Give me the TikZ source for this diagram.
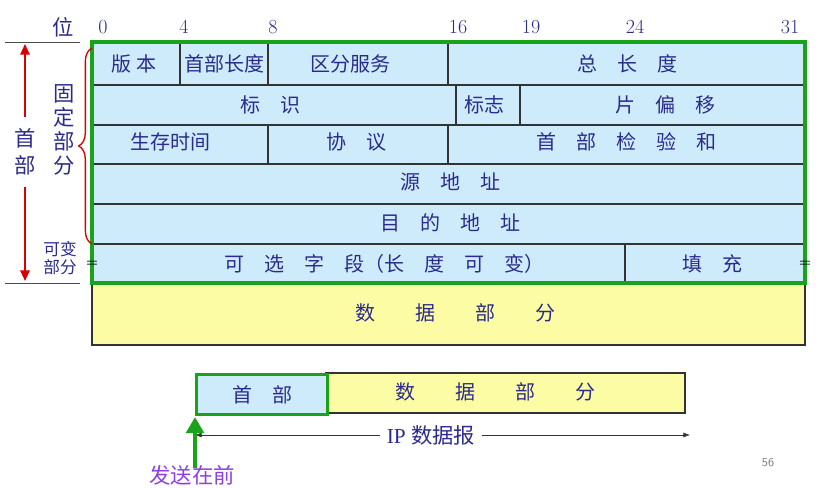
\documentclass[tikz,border=0pt]{standalone}
\usepackage{fontspec}
\newfontfamily\cjk{Noto Sans CJK SC}
\usetikzlibrary{arrows.meta,decorations.pathreplacing}
\definecolor{tb}{HTML}{2B2B8C}
\definecolor{lb}{HTML}{CDEBFB}
\definecolor{ly}{HTML}{FCFCA4}
\definecolor{gr}{HTML}{1AA31A}
\definecolor{pu}{HTML}{8A3FE0}
\tikzset{t/.style={text=tb,font=\cjk\fontsize{15}{15}\selectfont,inner sep=0pt},
num/.style={text=tb,font=\fontsize{15}{15}\selectfont,inner sep=0pt},
ln/.style={draw=black!80,line width=0.8pt}}
\begin{document}
\begin{tikzpicture}[x=0.75pt,y=-0.75pt]
\useasboundingbox (0,0) rectangle (821,488);
\fill[lb] (92,42) rectangle (805,283);
\fill[ly] (92,283) rectangle (805,345);
\draw[ln] (92,283) -- (92,345) -- (805,345) -- (805,283);
\foreach \y in {85,125,164,204,244} \draw[ln] (92,\y) -- (805,\y);
\draw[ln] (180,42)--(180,85) (268,42)--(268,85) (448,42)--(448,85);
\draw[ln] (456,85)--(456,125) (520,85)--(520,125);
\draw[ln] (268,125)--(268,164) (448,125)--(448,164);
\draw[ln] (625,244)--(625,283);
\draw[gr,line width=3pt] (92,42) rectangle (805,283);
\node[t] (a1) at (134,64) {版 本};
\node[t] (a2) at (224,64) {首部长度};
\node[t] (a3) at (350,64) {区分服务};
\node[t] (a4) at (627,64) {总\quad 长\quad 度};
\node[t] (b1) at (270,105) {标\quad 识};
\node[t] (b2) at (484,105) {标志};
\node[t] (b3) at (665,105) {片\quad 偏\quad 移};
\node[t] (c1) at (170,142) {生存时间};
\node[t] (c2) at (356,142) {协\quad 议};
\node[t] (c3) at (626,142) {首\quad 部\quad 检\quad 验\quad 和};
\node[t] (d1) at (450,182) {源\quad 地\quad 址};
\node[t] (e1) at (450,223) {目\quad 的\quad 地\quad 址};
\node[t] (f1) at (384,264) {可\quad 选\quad 字\quad 段（长\quad 度\quad 可\quad 变）};
\node[t] (f2) at (712,264) {填\quad 充};
\node[t] (g1) at (455,313) {数\qquad 据\qquad 部\qquad 分};
\node[font=\bfseries,inner sep=0pt] (eq1) at (92,264) {=};
\node[font=\bfseries,inner sep=0pt] (eq2) at (805,264) {=};
\node[t,font=\cjk\fontsize{16}{16}\selectfont] (wei) at (63,27) {位};
\foreach \n/\x in {0/103,4/184,8/273,16/458,19/531,24/635,31/790} \node[num] (n\n) at (\x,27) {\n};
\draw[black!70] (5,42) -- (80,42) (5,283) -- (80,283);
\coordinate (rt) at (25,44); \coordinate (rb) at (25,281);
\node[t,align=center,font=\cjk\fontsize{16}{20}\selectfont] (sb) at (25,152) {首\\部};
\draw[red!85!black,line width=1.5pt,-{Triangle[length=8pt,width=7pt]}] (sb.north) ++(0,-12) -- (rt);
\draw[red!85!black,line width=1.5pt,-{Triangle[length=8pt,width=7pt]}] (sb.south) ++(0,12) -- (rb);
\node[t,align=center,font=\cjk\fontsize{16}{18}\selectfont] (gd) at (64,130) {固\\定\\部\\分};
\draw[red!85!black,line width=1pt,decorate,decoration={brace,amplitude=10pt,mirror}] (92,48) -- (92,244);
\node[t,align=center,font=\cjk\fontsize{12.5}{14}\selectfont] (kb) at (60,258) {可变\\部分};
% bottom
\fill[ly] (326,373) rectangle (685,413);
\draw[ln] (326,373) rectangle (685,413);
\node[t] (bd) at (495,392) {数\qquad 据\qquad 部\qquad 分};
\node[draw=gr,line width=2.5pt,fill=lb,inner sep=0pt,anchor=north west,minimum height=40*0.75pt,minimum width=131*0.75pt,text=tb,font=\cjk\fontsize{15}{15}\selectfont] (hb) at (195,373) {首\quad 部};
\node[text=tb,font=\cjk\fontsize{16}{16}\selectfont,inner sep=5pt] (ip) at (431,435) {\fontspec{Liberation Serif}IP \cjk 数据报};
\coordinate (al) at (195,435); \coordinate (ar) at (690,435);
\draw[-{Latex[length=5pt]},black!80] (ip.west) -- (al);
\draw[-{Latex[length=5pt]},black!80] (ip.east) -- (ar);
\coordinate (gs) at (195,468); \coordinate (ge) at (195,417);
\draw[gr,line width=3.5pt,-{Triangle[length=12pt,width=13pt]}] (gs) -- (ge);
\node[text=pu,font=\cjk\fontsize{16}{16}\selectfont,inner sep=0pt] (fs) at (192,475) {发送在前};
\node[text=gray,font=\sffamily\fontsize{9}{9}\selectfont,inner sep=0pt] (pg) at (768,463) {56};
\end{tikzpicture}
\end{document}
